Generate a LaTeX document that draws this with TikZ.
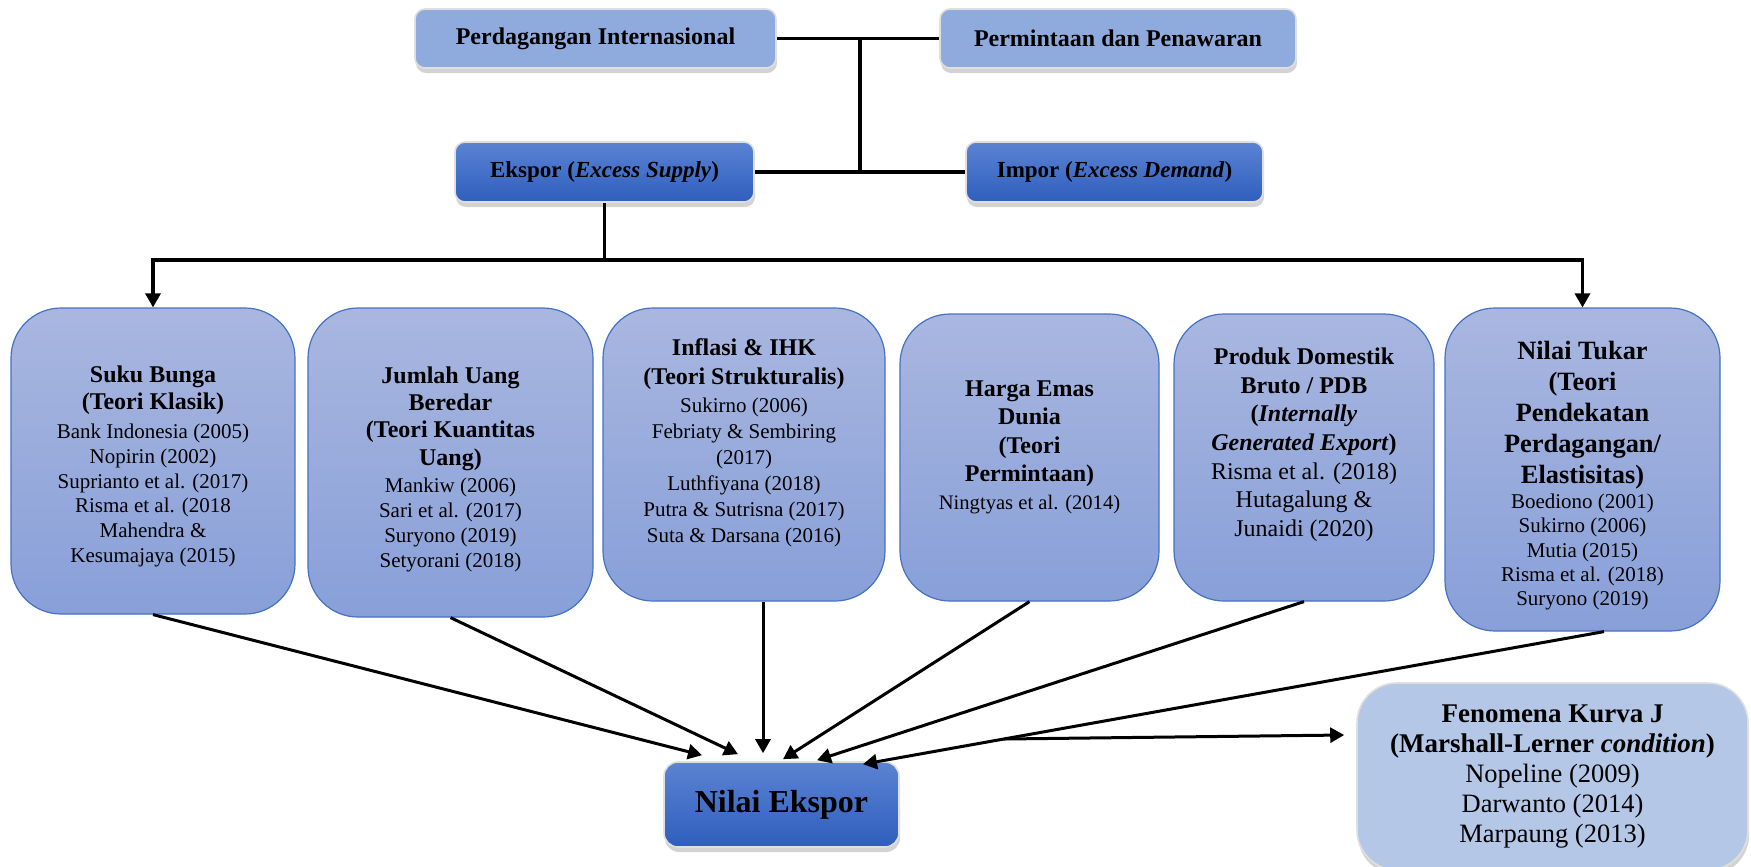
\documentclass[tikz,border=0pt]{standalone}
\usepackage{fontspec}
\setmainfont{Liberation Serif}
\usetikzlibrary{arrows.meta,shadows}
\definecolor{toplite}{HTML}{8FAADC}
\definecolor{darktop}{HTML}{5B83D3}
\definecolor{darkbot}{HTML}{2F5EBD}
\definecolor{rowtop}{HTML}{A9B7E0}
\definecolor{rowbot}{HTML}{889FD8}
\definecolor{rowline}{HTML}{4472C4}
\definecolor{jlite}{HTML}{B4C7E7}
\newcommand{\hd}[2][12]{{\fontsize{#1}{#1}\selectfont\bfseries #2}}

\begin{document}
\begin{tikzpicture}[x=0.5pt, y=-0.5pt, lite/.style={draw=gray!25, line width=0.8pt, rounded corners=5pt, fill=toplite, drop shadow={shadow xshift=0.5pt, shadow yshift=-2.5pt, opacity=0.35}, font=\fontsize{12}{14}\selectfont\bfseries, minimum height=29.5pt}, dark/.style={draw=gray!25, line width=0.8pt, rounded corners=5pt, top color=darktop, bottom color=darkbot, drop shadow={shadow xshift=0.5pt, shadow yshift=-2.5pt, opacity=0.35}, font=\fontsize{11.5}{14}\selectfont\bfseries, minimum height=30pt}, fbox/.style={draw=rowline, line width=0.6pt, rounded corners=25pt, top color=rowtop, bottom color=rowbot, align=center, inner sep=2pt, font=\fontsize{10.5}{12.4}\selectfont}, link/.style={line width=1.65pt}, arr/.style={line width=1.5pt, -{Triangle[length=7pt,width=7.5pt]}}]
\useasboundingbox (0,0) rectangle (1751,867);
% theory level
\node[lite, minimum width=180.5pt] (perdag) at (595.5,38.5) {Perdagangan Internasional}; \node[lite, minimum width=178pt] (permin) at (1118,38.5) {Permintaan dan Penawaran};
\node[dark, minimum width=149.5pt] (ekspbox) at (604.5,172) {Ekspor (\textit{Excess Supply})}; \node[dark, minimum width=148.5pt] (impor) at (1114.5,172) {Impor (\textit{Excess Demand})};
\coordinate (vtop) at (860,38.5); \coordinate (vbot) at (860,172); \coordinate (split) at (604.5,260);
% factors
\node[fbox, minimum width=142pt, minimum height=153pt] (suku) at (153,461) {\hd{Suku Bunga}\\[1pt]\hd{(Teori Klasik)}\\[2pt]Bank Indonesia (2005)\\Nopirin (2002)\\Suprianto et al. (2017)\\Risma et al. (2018\\Mahendra \&\\Kesumajaya (2015)\\[-15.8pt]};
\node[fbox, minimum width=142.5pt, minimum height=154.5pt] (jumlah) at (450.5,462.5) {\hd{Jumlah Uang}\\[1.25pt]\hd{Beredar}\\[1.25pt]\hd{(Teori Kuantitas}\\[1.25pt]\hd{Uang)}\\[1.5pt]Mankiw (2006)\\Sari et al. (2017)\\Suryono (2019)\\Setyorani (2018)\\[-16.9pt]};
\node[fbox, minimum width=141pt, minimum height=146.5pt, font=\fontsize{10.5}{13}\selectfont] (inflasi) at (744,454.5) {\hd{Inflasi \& IHK}\\[1.5pt]\hd{(Teori Strukturalis)}\\[1pt]Sukirno (2006)\\Febriaty \& Sembiring\\(2017)\\Luthfiyana (2018)\\Putra \& Sutrisna (2017)\\Suta \& Darsana (2016)\\[1pt]};
\node[fbox, minimum width=129.5pt, minimum height=143.5pt, font=\fontsize{10.3}{14.1}\selectfont] (emas) at (1029.5,457.5) {\hd{Harga Emas}\\\hd{Dunia}\\\hd{(Teori}\\\hd{Permintaan)}\\Ningtyas et al. (2014)\\[-1.8pt]};
\node[fbox, minimum width=130pt, minimum height=143.5pt, font=\fontsize{12}{14.3}\selectfont] (pdb) at (1304,457.5) {\hd{Produk Domestik}\\\hd{Bruto / PDB}\\\hd{(\textit{Internally}}\\\hd{\textit{Generated Export})}\\Risma et al. (2018)\\Hutagalung \&\\Junaidi (2020)\\[1.1pt]};
\node[fbox, minimum width=137.5pt, minimum height=161.5pt, font=\fontsize{10.5}{12.1}\selectfont] (tukar) at (1582.5,469.5) {\hd[13.2]{Nilai Tukar}\\[3.4pt]\hd[13.2]{(Teori}\\[3.4pt]\hd[13.2]{Pendekatan}\\[3.4pt]\hd[13.2]{Perdagangan/}\\[3.4pt]\hd[13.2]{Elastisitas)}\\[0.5pt]Boediono (2001)\\Sukirno (2006)\\Mutia (2015)\\Risma et al. (2018)\\Suryono (2019)\\[-16pt]};
% result
\node[dark, minimum width=117.5pt, minimum height=42.5pt, rounded corners=7pt, font=\fontsize{16}{18}\selectfont\bfseries] (nilai) at (781.5,804.5) {Nilai Ekspor};
\node[lite, fill=jlite, rounded corners=20pt, minimum width=195.5pt, minimum height=93.5pt, align=center, font=\fontsize{13.25}{15}\selectfont] (kurvaj) at (1552.5,776.5) {\hd[13.5]{Fenomena Kurva J}\\\hd[13.5]{(Marshall-Lerner \textit{condition})}\\Nopeline (2009)\\Darwanto (2014)\\Marpaung (2013)};
\draw[link] (perdag) -- (permin); \draw[link] (ekspbox) -- (impor); \draw[link] (vtop) -- (vbot);
\draw[arr, line width=1.65pt] (ekspbox) -- (split) -| (suku); \draw[arr, line width=1.65pt] (split) -| (tukar);
\draw[arr] (suku.south) -- ([xshift=-39.75pt,yshift=3pt]nilai.north); \draw[arr] (jumlah.south) -- ([xshift=-21.75pt,yshift=3.5pt]nilai.north); \draw[arr] ([xshift=9.5pt]inflasi.south) -- ([xshift=-9.25pt,yshift=4pt]nilai.north);
\draw[arr] (emas.south) -- ([xshift=0.75pt,yshift=1pt]nilai.north); \draw[arr] (pdb.south) -- ([xshift=17.75pt,yshift=0.5pt]nilai.north); \draw[arr] ([xshift=10.75pt]tukar.south) -- coordinate[pos=0.81] (jstart) ([xshift=40.75pt,yshift=-1.5pt]nilai.north);
\draw[arr] (jstart) -- ([xshift=-6pt,yshift=20.75pt]kurvaj.west);
\end{tikzpicture}
\end{document}
